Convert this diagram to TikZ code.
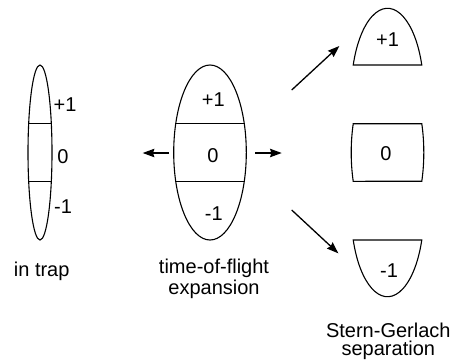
\documentclass[tikz,border=0pt]{standalone}
\usepackage{fontspec}
\setmainfont{Liberation Sans}
\usetikzlibrary{arrows.meta,shapes.geometric}
\begin{document}
\begin{tikzpicture}[x=0.5pt,y=-0.5pt,
  outline/.style={line width=0.55pt},
  cloud/.style={ellipse,draw,outline,inner sep=0pt},
  chord/.style={line width=0.65pt},
  flow/.style={line width=0.65pt,-{Stealth[length=5.8pt,width=4.2pt,inset=0.6pt]}},
  lbl/.style={inner sep=0pt,font=\fontsize{10}{9.25}\selectfont},
  caption/.style={lbl,align=center,anchor=base}]
\useasboundingbox (0,0) rectangle (453,360);
% in trap
\node[cloud,minimum width=12pt,minimum height=87.5pt] (trap) at (40,152.5) {};
\draw[chord] (28.67,123.7) -- (51.33,123.7);
\draw[chord] (28.67,181.3) -- (51.33,181.3);
\node[lbl] (trapP) at (65,105) {+1};
\node[lbl] (trapZ) at (63,156.5) {0};
\node[lbl] (trapM) at (63,207) {-1};
\node[caption] (trapcap) at (41.7,276) {in trap};
% time of flight
\node[cloud,minimum width=36.3pt,minimum height=87.5pt] (tof) at (210,152.5) {};
\draw[chord] (175.72,123.7) -- (244.28,123.7);
\draw[chord] (175.72,181.3) -- (244.28,181.3);
\node[lbl] (tofP) at (213.3,99.5) {+1};
\node[lbl] (tofZ) at (213,155.3) {0};
\node[lbl] (tofM) at (213.8,213.3) {-1};
\node[caption] (tofcap) at (214,294.5) {time-of-flight\\expansion};
% Stern-Gerlach
\draw[outline] (421.78,65) arc[start angle=-19.2,end angle=-160.8,x radius=36.3,y radius=84.5] -- cycle;
\draw[outline] (353.22,123.7) -- (421.78,123.7)
  arc[start angle=-19.2,end angle=19.2,x radius=36.3,y radius=87.5]
  -- (353.22,181.3)
  arc[start angle=160.8,end angle=199.2,x radius=36.3,y radius=87.5] -- cycle;
\draw[outline] (353.22,240) arc[start angle=160.8,end angle=19.2,x radius=36.3,y radius=84.5] -- cycle;
\node[lbl] (sgP) at (387.5,40) {+1};
\node[lbl] (sgZ) at (386,154) {0};
\node[lbl] (sgM) at (389,270.8) {-1};
\node[caption] (sgcap) at (388.3,355.5) {Stern-Gerlach\\separation};
% arrows
\coordinate (aLs) at (169,153);
\coordinate (aLe) at (142.7,153);
\coordinate (aRs) at (255,153);
\coordinate (aRe) at (281.7,153);
\coordinate (aUs) at (291.7,90);
\coordinate (aUe) at (339.3,46);
\coordinate (aDs) at (291.7,210);
\coordinate (aDe) at (338.3,253.3);
\draw[flow] (aLs) -- (aLe);
\draw[flow] (aRs) -- (aRe);
\draw[flow] (aUs) -- (aUe);
\draw[flow] (aDs) -- (aDe);
\end{tikzpicture}
\end{document}
